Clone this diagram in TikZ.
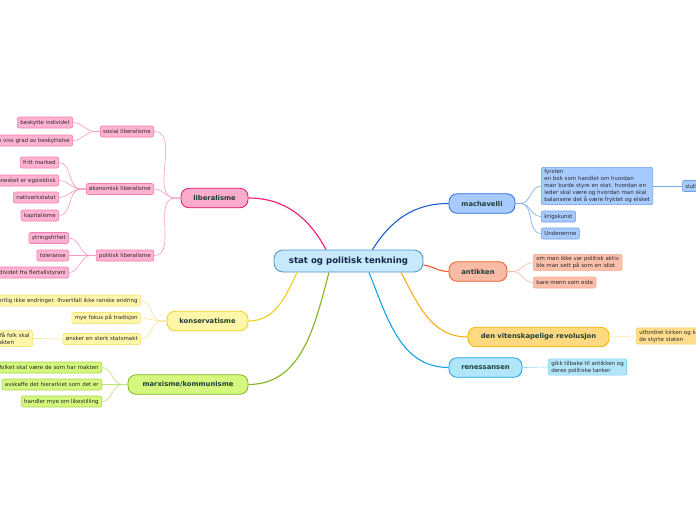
\documentclass[tikz,border=0pt]{standalone}
\usepackage{fontspec}
\setmainfont{DejaVu Sans}
\usetikzlibrary{calc}
\definecolor{cenF}{HTML}{C6E9FB}\definecolor{cenB}{HTML}{4A96CF}\definecolor{cenT}{HTML}{14284A}
\definecolor{mainT}{HTML}{1F3F35}\definecolor{subT}{HTML}{2A2A2A}
\definecolor{libL}{HTML}{EE1A72}\definecolor{libF}{HTML}{FFABCC}\definecolor{libB}{HTML}{E2156F}
\definecolor{libcF}{HTML}{FFB3D2}\definecolor{libcB}{HTML}{F27BAE}\definecolor{libcL}{HTML}{F79BC2}
\definecolor{macL}{HTML}{1F5FD0}\definecolor{macF}{HTML}{A8CBFF}\definecolor{macB}{HTML}{2D6ADB}
\definecolor{maccB}{HTML}{6B9FEB}\definecolor{maccL}{HTML}{7BA9EE}
\definecolor{antL}{HTML}{F05A28}\definecolor{antF}{HTML}{F9BBA6}\definecolor{antB}{HTML}{F05A28}
\definecolor{antcF}{HTML}{FBC0AB}\definecolor{antcB}{HTML}{F7A98C}\definecolor{antcL}{HTML}{F9B8A0}
\definecolor{vitL}{HTML}{F6B01A}\definecolor{vitF}{HTML}{FFD980}\definecolor{vitB}{HTML}{F4B400}
\definecolor{vitcF}{HTML}{FFDD8C}\definecolor{vitcB}{HTML}{FFD066}\definecolor{vitcL}{HTML}{FFE39A}
\definecolor{renL}{HTML}{12A5E3}\definecolor{renF}{HTML}{B1E5FA}\definecolor{renB}{HTML}{12A5E3}
\definecolor{rencF}{HTML}{B1E5FA}\definecolor{rencB}{HTML}{7FD0F2}\definecolor{rencL}{HTML}{9ADAF4}
\definecolor{konL}{HTML}{F2CF1E}\definecolor{konF}{HTML}{FFF6AA}\definecolor{konB}{HTML}{EFD01E}
\definecolor{koncF}{HTML}{FFF6AA}\definecolor{koncB}{HTML}{F5E27A}\definecolor{koncL}{HTML}{F5E68F}
\definecolor{marL}{HTML}{80B618}\definecolor{marF}{HTML}{D4F77E}\definecolor{marB}{HTML}{7FB61A}
\definecolor{marcF}{HTML}{D4F77E}\definecolor{marcB}{HTML}{A8D84C}\definecolor{marcL}{HTML}{BDE27A}
\tikzset{
  cenbox/.style={draw=cenB,fill=cenF,line width=0.8pt,rounded corners=9pt,minimum width=149pt,minimum height=22pt,inner sep=0pt,font=\bfseries\fontsize{8.6}{10}\selectfont,text=cenT},
  mainbox/.style={line width=0.8pt,rounded corners=8pt,minimum height=19.5pt,inner sep=0pt,font=\bfseries\fontsize{6.8}{8}\selectfont,text=mainT},
  subbox/.style={line width=0.6pt,rounded corners=2pt,minimum height=11pt,inner xsep=3pt,inner ysep=1.2pt,font=\fontsize{5.5}{7}\selectfont,text=subT,align=left},
  mline/.style={line width=1.1pt},
  cline/.style={line width=0.6pt},
}
\begin{document}
\begin{tikzpicture}[x=1pt,y=-1pt]
\useasboundingbox (0,0) rectangle (696,520);
\fill[white] (0,0) rectangle (696,520);
% central
\node[cenbox] (cen) at (348.5,261) {stat og politisk tenkning};
% main nodes
\node[mainbox,draw=libB,fill=libF,minimum width=67pt] (lib) at (214.5,198) {liberalisme};
\node[mainbox,draw=macB,fill=macF,minimum width=66pt] (mac) at (482,203.5) {machavelli};
\node[mainbox,draw=antB,fill=antF,minimum width=58pt] (ant) at (478,271.5) {antikken};
\node[mainbox,draw=vitB,fill=vitF,minimum width=141pt] (vit) at (538.5,337) {den vitenskapelige revolusjon};
\node[mainbox,draw=renB,fill=renF,minimum width=73pt] (ren) at (485.5,367.5) {renessansen};
\node[mainbox,draw=konB,fill=konF,minimum width=81pt] (kon) at (207.5,321) {konservatisme};
\node[mainbox,draw=marB,fill=marF,minimum width=120pt] (mar) at (188,384.5) {marxisme/kommunisme};
% main connectors
\draw[mline,libL] (lib.east) to[out=0,in=118] ($(cen.north)+(-22.5,0)$);
\draw[mline,macL] ($(cen.north)+(24,0)$) to[out=58,in=180] (mac.west);
\draw[mline,antL] ($(cen.east)+(0,4)$) to[out=-8,in=180] (ant.west);
\draw[mline,vitL] ($(cen.south)+(52.5,0)$) to[out=-62,in=180] (vit.west);
\draw[mline,renL] ($(cen.south)+(20.5,0)$) to[out=-68,in=180] (ren.west);
\draw[mline,konL] ($(cen.south)+(-51.5,0)$) to[out=-115,in=0] (kon.east);
\draw[mline,marL] ($(cen.south)+(-19.5,0)$) to[out=-105,in=0] (mar.east);
% liberalisme children
\tikzset{lsub/.style={subbox,draw=libcB,fill=libcF}}
\node[lsub,anchor=east] (sl) at (154,131.5) {sosial liberalisme};
\node[lsub,anchor=east] (ol) at (154,189) {økonomisk liberalisme};
\node[lsub,anchor=east] (pl) at (154,255.5) {politisk liberalisme};
\foreach \n in {sl,ol,pl}{\draw[cline,libcL] (lib.west) -- ++(-5,0) to[out=180,in=0] (\n.east);}
\node[lsub,anchor=east] (bi) at (73,122.5) {beskytte individet};
\node[lsub,anchor=east] (vg) at (73,140.5) {gi en viss grad av beskyttelse};
\foreach \n in {bi,vg}{\draw[cline,libcL] (sl.west) -- ++(-5,0) to[out=180,in=0] (\n.east);}
\node[lsub,anchor=east] (fm) at (59,162.5) {fritt marked};
\node[lsub,anchor=east] (me) at (59,180.5) {mennesket er egoisktisk};
\node[lsub,anchor=east] (nv) at (59,197.5) {nattverkstatat};
\node[lsub,anchor=east] (ka) at (59,215.5) {kapitalisme};
\foreach \n in {fm,me,nv,ka}{\draw[cline,libcL] (ol.west) -- ++(-5,0) to[out=180,in=0] (\n.east);}
\node[lsub,anchor=east] (yf) at (69,238) {ytringsfrihet};
\node[lsub,anchor=east] (to) at (69,255.5) {toleranse};
\node[lsub,anchor=east] (ft) at (69,272.5) {beskytte individet fra flertallstyrani};
\foreach \n in {yf,to,ft}{\draw[cline,libcL] (pl.west) -- ++(-5,0) to[out=180,in=0] (\n.east);}
% machavelli children
\tikzset{msub/.style={subbox,draw=maccB,fill=macF}}
\node[msub,anchor=west,inner ysep=2pt] (fy) at (541,186) {fyrsten\\en bok som handlet om hvordan\\man burde styre en stat. hvordan en\\leder skal være og hvordan man skal\\balansere det å være fryktet og elsket};
\node[msub,anchor=west] (kk) at (541,216.5) {krigskunst};
\node[msub,anchor=west] (ue) at (541,233.5) {Underemne};
\foreach \n in {fy,kk,ue}{\draw[cline,maccL] (mac.east) -- ++(5,0) to[out=0,in=180] (\n.west);}
\node[msub,anchor=west] (sk) at (682,186) {slutten};
\draw[cline,maccL] (fy.east) -- (sk.west);
% antikken children
\tikzset{asub/.style={subbox,draw=antcB,fill=antcF}}
\node[asub,anchor=west,inner ysep=2pt] (pa) at (533,262.5) {om man ikke var politisk aktiv\\ble man sett på som en idiot};
\node[asub,anchor=west] (bm) at (533,282.5) {bare menn som eide};
\foreach \n in {pa,bm}{\draw[cline,antcL] (ant.east) -- ++(5,0) to[out=0,in=180] (\n.west);}
% vitenskapelige child
\node[subbox,draw=vitcB,fill=vitcF,anchor=west,inner ysep=2pt] (uk) at (636,336) {utfordret kirken og kongene fordi\\de styrte staten};
\draw[cline,vitcL] (vit.east) to[out=0,in=180] (uk.west);
% renessansen child
\node[subbox,draw=rencB,fill=rencF,anchor=west,inner ysep=2pt] (ga) at (548,367) {gikk tilbake til antikken og\\deres politiske tanker};
\draw[cline,rencL] (ren.east) to[out=0,in=180] (ga.west);
% konservatisme children
\tikzset{ksub/.style={subbox,draw=koncB,fill=koncF}}
\node[ksub,anchor=east] (ie) at (141,300.5) {ønsker egentlig ikke endringer. Ihvertfall ikke ranske endring};
\node[ksub,anchor=east] (ft2) at (141,318) {mye fokus på tradisjon};
\node[ksub,anchor=east] (ss) at (141,339) {ønsker en sterk statsmakt};
\foreach \n in {ie,ft2,ss}{\draw[cline,koncL] (kon.west) -- ++(-5,0) to[out=180,in=0] (\n.east);}
\node[ksub,anchor=east,inner ysep=2pt] (nf) at (33,338.5) {noen få folk skal\\ha makten};
\draw[cline,koncL] (ss.west) to[out=180,in=0] (nf.east);
% marxisme children
\tikzset{xsub/.style={subbox,draw=marcB,fill=marcF}}
\node[xsub,anchor=east] (fs) at (102,367.5) {arbeiderfolket skal være de som har makten};
\node[xsub,anchor=east] (ah) at (102,384.5) {avskaffe det hierarkiet som det er};
\node[xsub,anchor=east] (hl) at (102,401.5) {handler mye om likestilling};
\foreach \n in {fs,ah,hl}{\draw[cline,marcL] (mar.west) -- ++(-5,0) to[out=180,in=0] (\n.east);}
\end{tikzpicture}
\end{document}
